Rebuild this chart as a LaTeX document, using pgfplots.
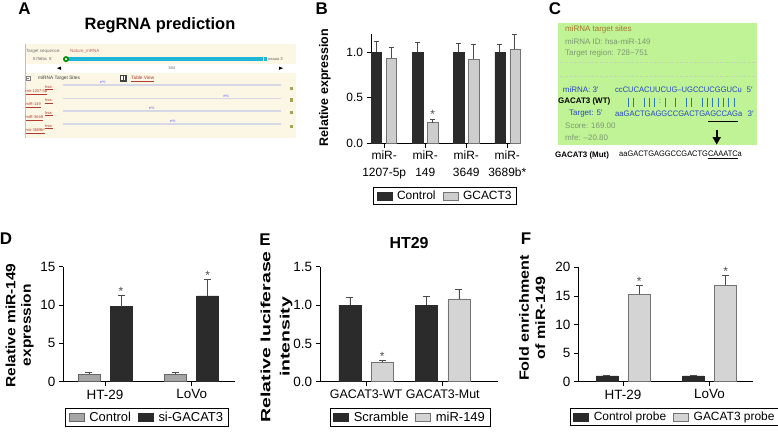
\documentclass[border=0pt]{standalone}
\usepackage{fontspec}
\setmainfont{Liberation Sans}
\usepackage{graphicx}
\usepackage{pgfplots}
\pgfplotsset{compat=1.18}

\definecolor{bblack}{HTML}{2B2B2B}
\definecolor{bgrayB}{HTML}{CDCDCD}
\definecolor{bgrayD}{HTML}{A5A5A5}
\definecolor{bgrayE}{HTML}{D4D4D4}
\definecolor{errc}{HTML}{4A4A4A}
\definecolor{cgreen}{RGB}{192,242,150}
\definecolor{cblue}{HTML}{2446C8}
\definecolor{cbars}{HTML}{2E78B0}
\definecolor{cgray}{HTML}{7C9A72}
\definecolor{cbrown}{HTML}{A8742A}
\definecolor{acream}{HTML}{FBF7E4}
\definecolor{ared}{HTML}{B23A2E}
\definecolor{acyan}{HTML}{1FB5D8}
\definecolor{aline}{RGB}{214,216,232}
\definecolor{aolive}{HTML}{A3A35E}

\pgfplotsset{
  panel/.style={
    scale only axis, ymin=0, clip=false,
    axis lines*=left,
    axis line style={black, line width=0.8bp},
    tick align=outside, major tick length=4.5bp,
    tick style={black, line width=0.8bp},
    /pgf/number format/assume math mode=true,
    legend columns=2, legend cell align=left,
    legend style={draw=black, line width=0.7bp, inner xsep=3bp, inner ysep=1.5bp,
      /tikz/every odd column/.append style={column sep=3bp},
      /tikz/every even column/.append style={column sep=5bp}},
  },
  barleg/.style={legend image code/.code={\draw[##1] (0bp,-4bp) rectangle (15bp,4bp);}},
  errs/.style={error bars/y dir=plus, error bars/y explicit,
    error bars/error bar style={errc, line width=0.7bp},
    error bars/error mark options={errc, line width=0.7bp, mark size=#1, rotate=90}},
}

\begin{document}
\begin{tikzpicture}
\useasboundingbox (0,0) rectangle (778bp,-434bp);

% ---------------- letters, panel A and C drawings ----------------
\begin{scope}[x=1bp,y=-1bp]
\foreach \lx/\ly/\lt in {24.5/8.5/A, 321.7/8.5/B, 555/8.5/C, 6/239/D, 265/240/E, 526/239/F}
  \node[font=\bfseries\fontsize{17}{17}\selectfont, inner sep=0] at (\lx,\ly) {\lt};

% Panel A
\node[font=\bfseries\fontsize{16.5}{17}\selectfont, inner sep=0] at (160,25) {RegRNA prediction};
\fill[acream] (25,44) rectangle (296,138);
\draw[black!25, line width=0.6bp] (25,44) -- (25,138);
\fill[white] (26,63.5) rectangle (296,73);
\node[anchor=west, inner sep=0, font=\fontsize{4.5}{5}\selectfont, text=black!55] at (26,51.5) {Target sequence:};
\node[anchor=west, inner sep=0, font=\fontsize{4.5}{5}\selectfont, text=ared!80] at (70,51.5) {Nature\_mRNA};
\node[anchor=west, inner sep=0, font=\fontsize{4.2}{5}\selectfont, text=black!60] at (33,59) {5756bs \ 5′};
\fill[acyan] (66,57.2) rectangle (263,61);
\fill[green!55!black] (66,59.1) circle (3);
\fill[white] (66,59.1) circle (1.2);
\fill[acyan] (263.8,57.3) rectangle (267,60.8);
\node[anchor=west, inner sep=0, font=\fontsize{4}{5}\selectfont, text=black!60] at (268,59) {aaaaa 3′};
\fill (57,68.2) -- (61,66.5) -- (61,69.9) -- cycle;
\fill (283,68.2) -- (279,66.5) -- (279,69.9) -- cycle;
\node[inner sep=0, font=\fontsize{4}{5}\selectfont, text=black!60] at (171.7,68) {384};
\draw[black!50, line width=0.3bp] (25.8,76) rectangle (30,80.5);
\draw[black!50, line width=0.3bp] (26.8,78.25) -- (29,78.25);
\node[anchor=west, inner sep=0, font=\fontsize{4.8}{5}\selectfont, text=black!75] at (38,78.5) {miRNA Target Sites};
\fill[black!75] (119.5,75) rectangle (126.5,81.5);
\fill[white] (121,76.3) rectangle (125,80.3);
\draw[black!75, line width=0.4bp] (123,76.3) -- (123,80.3);
\node[anchor=west, inner sep=0, font=\fontsize{4.8}{5}\selectfont, text=ared] at (131,78.8) {\underline{Table View}};
\foreach \yy/\lab/\mx/\sq in {85/mir-1207-5p/102.7/88.3, 98.3/miR-149/226/100, 111/miR-3649/151.7/112.7, 124/mir-3689b*/172.7/126.7} {
  \draw[aline, line width=1.5bp] (63,\yy) -- (281,\yy);
  \node[anchor=east, inner sep=0, font=\fontsize{4}{4.5}\selectfont, text=ared] at (53,\yy+2.6) {\underline{hsa-}};
  \node[anchor=west, inner sep=0, font=\fontsize{4}{4.5}\selectfont, text=ared] at (25.5,\yy+7.2) {\underline{\lab}};
  \node[inner sep=0, font=\fontsize{3.8}{4}\selectfont, text=blue!60] at (\mx,\yy-2.4) {e\%};
  \fill[aolive] (290.2,\sq-1.6) rectangle (293.4,\sq+1.6);
}

% Panel C
\fill[cgreen] (558,23) rectangle (757,145);
\draw[cgray!50, dotted, line width=0.5bp] (560,62) -- (755,62);
\draw[cgray!50, dotted, line width=0.5bp] (560,76) -- (755,76);
\begin{scope}[every node/.style={anchor=west, inner sep=0, font=\fontsize{8}{9}\selectfont}]
\node[text=cbrown] at (565,29) {miRNA target sites};
\node[text=cgray] at (565,42) {miRNA ID: hsa-miR-149};
\node[text=cgray] at (565,53.3) {Target region: 728\textasciitilde751};
\node[text=cblue] at (562.7,90) {miRNA: 3′};
\node[text=cblue] at (615,90) {\scalebox{0.95}[1]{ccCUCACUUCUG–UGCCUCGGUCu}};
\node[text=cblue] at (746.5,90) {5′};
\node[text=black, font=\bfseries\fontsize{8}{9}\selectfont] at (558,101.7) {GACAT3 (WT)};
\node[text=cblue] at (569,113.3) {Target: 5′};
\node[text=cblue] at (615,113.3) {\scalebox{0.95}[1]{aaGACTGAGGCCGACTGAGCCAGa}};
\node[text=cblue] at (747.5,113.3) {3′};
\node[text=cgray] at (565,126) {Score: 169.00};
\node[text=cgray] at (565,137.5) {mfe: –20.80};
\node[text=black, font=\bfseries\fontsize{8}{9}\selectfont] at (555,155) {GACAT3 (Mut)};
\node[text=black] at (619,155) {\scalebox{0.937}[1]{aaGACTGAGGCCGACTG\underline{CAAATC}a}};
\end{scope}
\foreach \i in {2,3,5,6,7,9,11,13,14,16,17,18,19,20,21,22}
  \draw[cbars, line width=0.6bp] ({615+(\i+0.5)*5.28},97.5) -- ({615+(\i+0.5)*5.28},106.5);
\node[inner sep=0, text=cbars, font=\fontsize{8}{9}\selectfont] at ({615+8.5*5.28},101.8) {:};
\draw[black, line width=1.5bp] (708,121.7) -- (738,121.7);
\draw[black, line width=2bp] (716.7,130) -- (716.7,138);
\fill[black] (712.4,137) -- (721,137) -- (716.7,144.5) -- cycle;
\end{scope}

% ---------------- Panel B ----------------
\begin{axis}[panel, at={(371bp,-143.3bp)}, anchor=south west,
  width=149bp, height=109.4bp,
  xmin=-0.322, xmax=3.31, ymax=1.2,
  ytick={0,0.5,1}, yticklabels={0.0,0.5,1.0},
  xtick={0,1,2,3},
  xticklabels={{miR-\\1207-5p},{miR-\\149},{miR-\\3649},{miR-\\3689b*}},
  tick label style={font=\fontsize{12}{16.3}\selectfont},
  xticklabel style={align=center},
  ylabel={Relative expression},
  ylabel style={at={(axis description cs:-0.309,0.51)}, anchor=center, font=\bfseries\fontsize{12.5}{15}\selectfont},
  legend style={at={(0.497,-0.40)}, anchor=north, font=\fontsize{12}{14}\selectfont},
]
\addplot[ybar, bar width=0.245, bar shift=0, fill=bblack, draw=bblack, line width=0.5bp, barleg, errs=2.6bp]
  coordinates {(-0.183,1.0) +- (0,0.116) (0.817,1.0) +- (0,0.105) (1.817,1.0) +- (0,0.099) (2.817,1.0) +- (0,0.09)};
\addlegendentry{Control}
\addplot[ybar, bar width=0.245, bar shift=0, fill=bgrayB, draw=black!55, line width=0.5bp, barleg, errs=2.6bp]
  coordinates {(0.183,0.934) +- (0,0.121) (1.183,0.226) +- (0,0.038) (2.183,0.923) +- (0,0.157) (3.183,1.033) +- (0,0.157)};
\addlegendentry{GCACT3}
\node[anchor=base, inner sep=0, text=black!70, font=\fontsize{12}{12}\selectfont, yshift=1bp] at (axis cs:1.183,0.264) {*};
\end{axis}

% ---------------- Panel D ----------------
\begin{axis}[panel, at={(63.3bp,-381.7bp)}, anchor=south west,
  width=171.7bp, height=115bp,
  xmin=-0.481, xmax=1.5, ymax=15,
  ytick={0,5,10,15},
  xtick={0,1}, xticklabels={HT-29,LoVo},
  tick label style={font=\fontsize{13.5}{16}\selectfont},
  ylabel={\scalebox{1.15}[1]{\begin{tabular}{@{}c@{}}Relative miR-149\\expression\end{tabular}}},
  ylabel style={at={(axis description cs:-0.252,0.49)}, anchor=center, font=\bfseries\fontsize{13.5}{15.5}\selectfont},
  legend style={at={(0.487,-0.229)}, anchor=north, font=\fontsize{13}{15}\selectfont},
]
\addplot[ybar, bar width=0.254, bar shift=0, fill=bgrayD, draw=black!60, line width=0.5bp, barleg, errs=3.5bp]
  coordinates {(-0.185,1.0) +- (0,0.18) (0.815,1.0) +- (0,0.18)};
\addlegendentry{Control}
\addplot[ybar, bar width=0.254, bar shift=0, fill=bblack, draw=bblack, line width=0.5bp, barleg, errs=3.5bp]
  coordinates {(0.185,9.8) +- (0,1.5) (1.185,11.2) +- (0,2.15)};
\addlegendentry{si-GACAT3}
\node[anchor=base, inner sep=0, text=black!70, font=\fontsize{12}{12}\selectfont] at (axis cs:0.185,11.3) {*};
\node[anchor=base, inner sep=0, text=black!70, font=\fontsize{12}{12}\selectfont] at (axis cs:1.185,13.35) {*};
\end{axis}

% ---------------- Panel E ----------------
\begin{axis}[panel, at={(320bp,-381.7bp)}, anchor=south west,
  width=178bp, height=115bp,
  xmin=-0.601, xmax=1.72, ymax=1.5,
  ytick={0,0.5,1,1.5}, yticklabels={0.0,0.5,1.0,1.5},
  xtick={0,1}, xticklabels={GACAT3-WT,GACAT3-Mut},
  tick label style={font=\fontsize{13.5}{16}\selectfont},
  xticklabel style={font=\fontsize{12.5}{15}\selectfont},
  ylabel={\scalebox{1.45}[1]{\begin{tabular}{@{}c@{}}Relative luciferase\\[4bp]intensity\end{tabular}}},
  ylabel style={at={(axis description cs:-0.242,0.39)}, anchor=center, font=\bfseries\fontsize{13.5}{15.5}\selectfont},
  legend style={at={(0.506,-0.231)}, anchor=north, font=\fontsize{13}{15}\selectfont},
]
\addplot[ybar, bar width=0.287, bar shift=0, fill=bblack, draw=bblack, line width=0.5bp, barleg, errs=3.5bp]
  coordinates {(-0.21,1.0) +- (0,0.10) (0.79,1.0) +- (0,0.118)};
\addlegendentry{Scramble}
\addplot[ybar, bar width=0.287, bar shift=0, fill=bgrayE, draw=black!55, line width=0.5bp, barleg, errs=3.5bp]
  coordinates {(0.21,0.253) +- (0,0.03) (1.21,1.079) +- (0,0.13)};
\addlegendentry{miR-149}
\node[anchor=base, inner sep=0, text=black!70, font=\fontsize{12}{12}\selectfont] at (axis cs:0.21,0.283) {*};
\node[font=\bfseries\fontsize{16}{16}\selectfont, inner sep=0] at (axis description cs:0.5,1.21) {HT29};
\end{axis}

% ---------------- Panel F ----------------
\begin{axis}[panel, at={(578.3bp,-381.7bp)}, anchor=south west,
  width=174.7bp, height=114.4bp,
  xmin=-0.517, xmax=1.503, ymax=20,
  ytick={0,5,10,15,20},
  xtick={0,1}, xticklabels={HT-29,LoVo},
  tick label style={font=\fontsize{13.5}{16}\selectfont},
  ylabel={\scalebox{1.2}[1]{\begin{tabular}{@{}c@{}}Fold enrichment\\[1bp]of miR-149\end{tabular}}},
  ylabel style={at={(axis description cs:-0.254,0.556)}, anchor=center, font=\bfseries\fontsize{13.5}{15.5}\selectfont},
  legend style={at={(0.553,-0.23)}, anchor=north, font=\fontsize{12}{14}\selectfont,
    nodes={inner xsep=2bp}},
]
\addplot[ybar, bar width=0.251, bar shift=0, fill=bblack, draw=bblack, line width=0.5bp, barleg, errs=3.5bp]
  coordinates {(-0.186,1.0) +- (0,0.1) (0.814,1.0) +- (0,0.1)};
\addlegendentry{Control probe}
\addplot[ybar, bar width=0.251, bar shift=0, fill=bgrayE, draw=black!55, line width=0.5bp, barleg, errs=3.5bp]
  coordinates {(0.186,15.28) +- (0,1.52) (1.186,16.9) +- (0,1.75)};
\addlegendentry{GACAT3 probe}
\node[anchor=base, inner sep=0, text=black!70, font=\fontsize{12}{12}\selectfont] at (axis cs:0.186,16.8) {*};
\node[anchor=base, inner sep=0, text=black!70, font=\fontsize{12}{12}\selectfont] at (axis cs:1.186,18.65) {*};
\end{axis}
\end{tikzpicture}
\end{document}
